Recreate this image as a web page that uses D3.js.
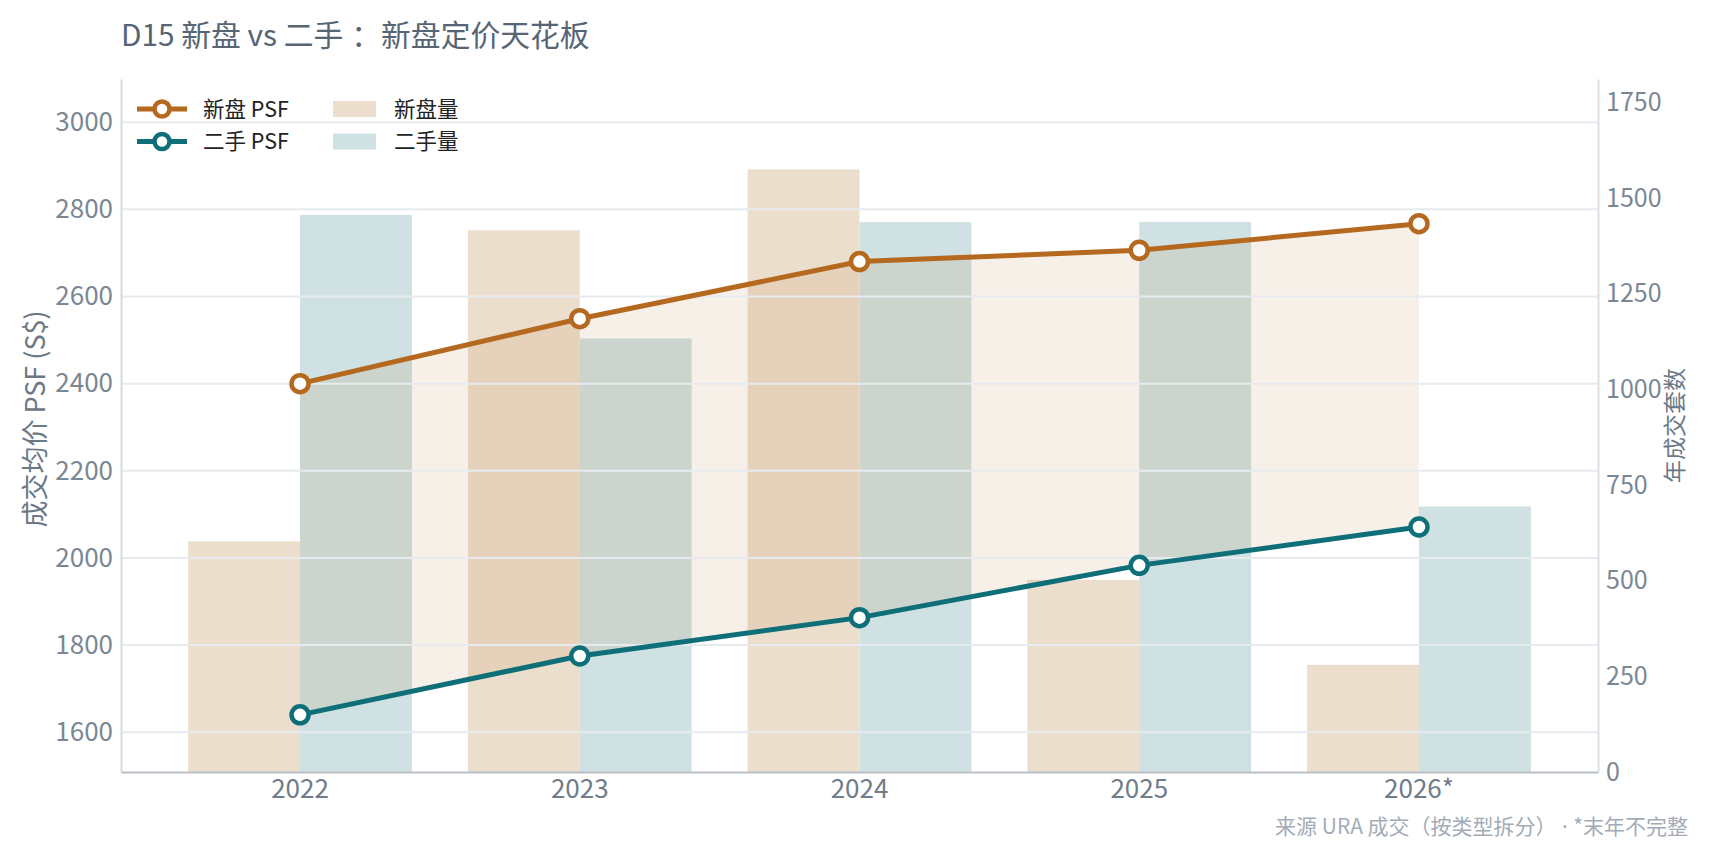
<!DOCTYPE html>
<html lang="zh">
<head>
    <meta charset="UTF-8">
    <title>D15 新盘 vs 二手</title>
    <style>
        body { margin: 0; background: #fff; }
        svg text { font-family: "Noto Sans CJK SC", "Noto Sans", sans-serif; }
        .grid line { stroke: #e7ebef; stroke-width: 2px; }
    </style>
    <script src="https://d3js.org/d3.v7.min.js"></script>
</head>
<body>
<div id="chart"></div>
<script>
    // data
    const years = ["2022", "2023", "2024", "2025", "2026*"];
    const newPsf = [2400, 2549, 2680, 2706, 2767];
    const resalePsf = [1640, 1775, 1863, 1983, 2071];
    const newVol = [603, 1416, 1575, 502, 280];
    const resaleVol = [1456, 1133, 1437, 1438, 694];
    const psfTicks = [1600, 1800, 2000, 2200, 2400, 2600, 2800, 3000];
    const volTicks = [0, 250, 500, 750, 1000, 1250, 1500, 1750];

    const width = 1710, height = 855;
    const margin = { top: 79, right: 112, bottom: 83, left: 121 };
    const innerW = width - margin.left - margin.right;
    const innerH = height - margin.top - margin.bottom;

    const newColor = "#b5691f", resaleColor = "#0e6f78";

    const svg = d3.select("#chart").append("svg")
        .attr("width", width)
        .attr("height", height);

    const g = svg.append("g")
        .attr("transform", `translate(${margin.left},${margin.top})`);

    // scales
    const x = d3.scaleBand()
        .domain(years)
        .range([0, innerW])
        .paddingInner(0.2)
        .paddingOuter(0.24);
    const half = x.bandwidth() / 2;
    const cx = d => x(d) + half;

    const allPsf = newPsf.concat(resalePsf);
    const yL = d3.scaleLinear()
        .domain([d3.min(allPsf) * 0.92, d3.max(allPsf) * 1.12])
        .range([innerH, 0]);
    const yR = d3.scaleLinear()
        .domain([0, d3.max(newVol.concat(resaleVol)) * 1.15])
        .range([innerH, 0]);

    // bars
    g.selectAll(".bar-new")
        .data(years)
        .enter().append("rect")
        .attr("x", d => x(d))
        .attr("width", half)
        .attr("y", (d, i) => yR(newVol[i]))
        .attr("height", (d, i) => innerH - yR(newVol[i]))
        .attr("fill", "#ecdecd");

    g.selectAll(".bar-resale")
        .data(years)
        .enter().append("rect")
        .attr("x", d => x(d) + half)
        .attr("width", half)
        .attr("y", (d, i) => yR(resaleVol[i]))
        .attr("height", (d, i) => innerH - yR(resaleVol[i]))
        .attr("fill", "#cfe1e3");

    // premium band between the two psf lines
    const band = d3.area()
        .x(d => cx(d))
        .y0((d, i) => yL(resalePsf[i]))
        .y1((d, i) => yL(newPsf[i]));
    g.append("path")
        .datum(years)
        .attr("d", band)
        .attr("fill", newColor)
        .attr("fill-opacity", 0.1);

    // gridlines from the left axis
    g.append("g")
        .attr("class", "grid")
        .selectAll("line")
        .data(psfTicks)
        .enter().append("line")
        .attr("x1", 0)
        .attr("x2", innerW)
        .attr("y1", d => yL(d))
        .attr("y2", d => yL(d));

    // axes
    const left = g.append("g")
        .call(d3.axisLeft(yL).tickValues(psfTicks).tickFormat(d3.format("d")).tickSize(0).tickPadding(8));
    left.select(".domain").attr("stroke", "#d5dbe0").attr("stroke-width", 2);
    left.selectAll("text").attr("fill", "#7b8795").style("font-size", "26px");

    const right = g.append("g")
        .attr("transform", `translate(${innerW},0)`)
        .call(d3.axisRight(yR).tickValues(volTicks).tickFormat(d3.format("d")).tickSize(0).tickPadding(8));
    right.select(".domain").attr("stroke", "#dbe0e4").attr("stroke-width", 2);
    right.selectAll("text").attr("fill", "#7b8795").style("font-size", "25px");

    const bottom = g.append("g")
        .attr("transform", `translate(0,${innerH})`)
        .call(d3.axisBottom(x).tickSize(0).tickPadding(8));
    bottom.select(".domain").attr("stroke", "#b9bfc5").attr("stroke-width", 2);
    bottom.selectAll("text").attr("fill", "#6f7c8a").style("font-size", "26px");

    // lines + markers
    const series = [
        { vals: newPsf, color: newColor },
        { vals: resalePsf, color: resaleColor }
    ];
    series.forEach(s => {
        const line = d3.line()
            .x(d => cx(d))
            .y((d, i) => yL(s.vals[i]));
        g.append("path")
            .datum(years)
            .attr("d", line)
            .attr("fill", "none")
            .attr("stroke", s.color)
            .attr("stroke-width", 5);
        g.selectAll(null)
            .data(years)
            .enter().append("circle")
            .attr("cx", d => cx(d))
            .attr("cy", (d, i) => yL(s.vals[i]))
            .attr("r", 8.5)
            .attr("fill", "#fff")
            .attr("stroke", s.color)
            .attr("stroke-width", 4.5);
    });

    // legend
    const legendItems = [
        { label: "新盘 PSF", type: "line", color: newColor, col: 0, row: 0 },
        { label: "二手 PSF", type: "line", color: resaleColor, col: 0, row: 1 },
        { label: "新盘量", type: "bar", color: "#ecdecd", col: 1, row: 0 },
        { label: "二手量", type: "bar", color: "#cfe1e3", col: 1, row: 1 }
    ];
    const legend = svg.append("g");
    legendItems.forEach(it => {
        const lx = 137 + it.col * 196, ly = 109 + it.row * 32.5;
        if (it.type === "line") {
            legend.append("line")
                .attr("x1", lx).attr("x2", lx + 50)
                .attr("y1", ly).attr("y2", ly)
                .attr("stroke", it.color).attr("stroke-width", 5);
            legend.append("circle")
                .attr("cx", lx + 25).attr("cy", ly).attr("r", 7.5)
                .attr("fill", "#fff").attr("stroke", it.color).attr("stroke-width", 4.5);
        } else {
            legend.append("rect")
                .attr("x", lx).attr("y", ly - 8)
                .attr("width", 43).attr("height", 16)
                .attr("fill", it.color);
        }
        legend.append("text")
            .attr("x", it.type === "line" ? lx + 66 : lx + 61)
            .attr("y", ly)
            .attr("dy", "0.35em")
            .attr("fill", "#222")
            .style("font-size", "21.5px")
            .text(it.label);
    });

    // titles
    const title = svg.append("text")
        .attr("x", 121)
        .attr("y", 46)
        .attr("fill", "#566474")
        .style("font-size", "29.8px");
    title.append("tspan").text("D15 新盘 vs 二手");
    // nudge the full-width colon so it sits centred like the original
    title.append("tspan").attr("dx", 8).text("：");
    title.append("tspan").text("新盘定价天花板");

    svg.append("text")
        .attr("transform", `translate(36,419) rotate(-90)`)
        .attr("text-anchor", "middle")
        .attr("dy", "0.35em")
        .attr("fill", "#6b7886")
        .style("font-size", "27px")
        .text("成交均价 PSF (S$)");

    svg.append("text")
        .attr("transform", `translate(1675,${margin.top + innerH / 2}) rotate(-90)`)
        .attr("text-anchor", "middle")
        .attr("dy", "0.35em")
        .attr("fill", "#6b7886")
        .style("font-size", "23px")
        .text("年成交套数");

    const foot = svg.append("text")
        .attr("x", 1688)
        .attr("y", 827)
        .attr("dy", "0.35em")
        .attr("text-anchor", "end")
        .attr("fill", "#a3acb6")
        .style("font-size", "21px");
    foot.append("tspan").text("来源 URA 成交（按类型拆分）");
    foot.append("tspan").style("font-family", "'Noto Sans'").text(" · ");
    foot.append("tspan").text("*末年不完整");
</script>
</body>
</html>
